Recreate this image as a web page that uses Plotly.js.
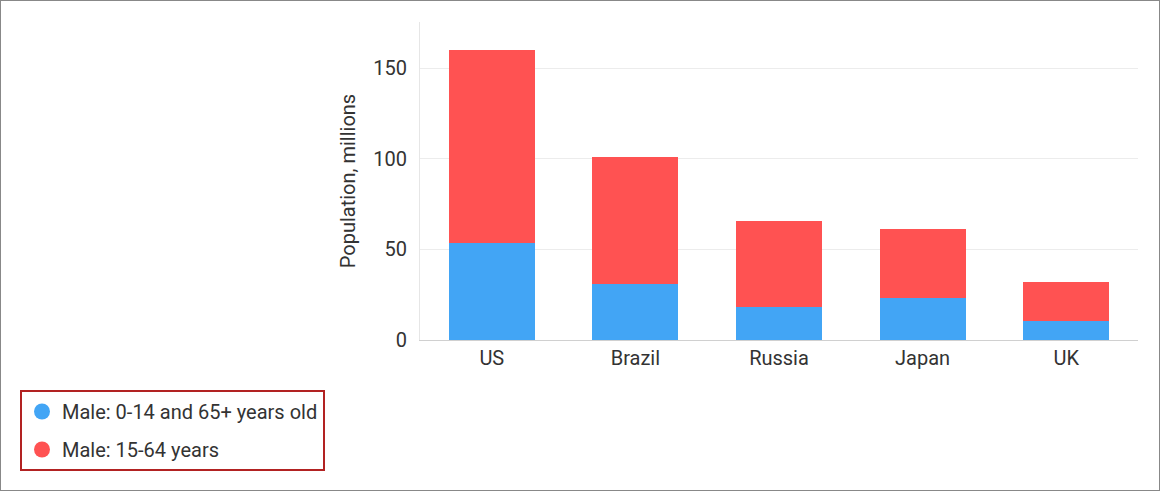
<!DOCTYPE html>
<html>
<head>
<meta charset="utf-8">
<script src="https://cdn.plot.ly/plotly-3.0.1.min.js"></script>
<style>
  html, body { margin: 0; padding: 0; background: #fff; }
  #chart { width: 1158px; height: 489px; border: 1px solid #888; }
</style>
</head>
<body>
<div id="chart"></div>
<script>
const categories = ["US", "Brazil", "Russia", "Japan", "UK"];
const seriesNames = ["Male: 0-14 and 65+ years old", "Male: 15-64 years"];
const youngOld = [53.3, 30.9, 18.4, 23.4, 10.7];
const working = [106.7, 70.2, 47.3, 37.9, 21.3];
const yTickVals = [0, 50, 100, 150];
const colors = ["#42A5F5", "#FF5252"];

const traces = [
  { type: "bar", x: categories, y: youngOld, name: seriesNames[0], marker: { color: colors[0] }, showlegend: false },
  { type: "bar", x: categories, y: working, name: seriesNames[1], marker: { color: colors[1] }, showlegend: false },
  { type: "scatter", mode: "markers", x: [null], y: [null], name: seriesNames[0], legendgroup: "a", marker: { color: colors[0], size: 20, symbol: "circle" }, hoverinfo: "skip" },
  { type: "scatter", mode: "markers", x: [null], y: [null], name: seriesNames[1], legendgroup: "b", marker: { color: colors[1], size: 20, symbol: "circle" }, hoverinfo: "skip" }
];

const layout = {
  width: 1158, height: 489,
  margin: { l: 419, r: 21, t: 21, b: 150 },
  paper_bgcolor: "#fff", plot_bgcolor: "#fff",
  font: { family: "Roboto, sans-serif", size: 20, color: "#333" },
  barmode: "stack",
  bargap: 0.4,
  xaxis: {
    type: "category",
    showgrid: false,
    showline: true, linecolor: "#d0d0d0", linewidth: 1,
    ticks: "", tickfont: { size: 20, color: "#333" },
    ticklabelstandoff: 0,
    fixedrange: true
  },
  yaxis: {
    range: [0, 175.5],
    tickvals: yTickVals,
    showgrid: true, gridcolor: "#ececec", gridwidth: 1,
    zeroline: false,
    showline: true, linecolor: "#e6e6e6", linewidth: 1,
    ticks: "", ticklen: 0, tickfont: { size: 20, color: "#333" },
    ticklabelstandoff: 8,
    title: { text: "Population, millions", font: { size: 20, color: "#333" }, standoff: 12 },
    fixedrange: true
  },
  showlegend: true,
  legend: {
    xref: "container", yref: "container",
    x: 19 / 1158, y: 1 - 389 / 489, xanchor: "left", yanchor: "top",
    bordercolor: "#b22222", borderwidth: 2, bgcolor: "#fff",
    font: { size: 20, color: "#333" },
    traceorder: "grouped",
    itemsizing: "trace",
    tracegroupgap: 9
  }
};

Plotly.newPlot("chart", traces, layout, { displayModeBar: false, staticPlot: true });
</script>
</body>
</html>
